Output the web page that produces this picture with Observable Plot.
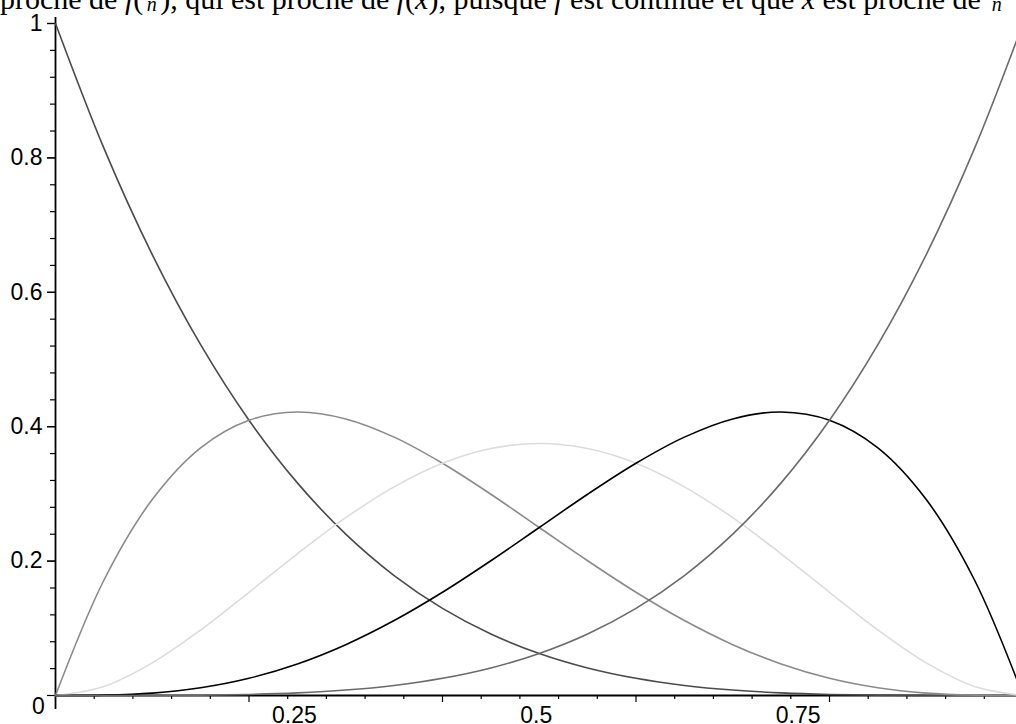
<!DOCTYPE html>
<html>
<head>
<meta charset="utf-8">
<script src="https://cdn.jsdelivr.net/npm/d3@7"></script>
<script src="https://cdn.jsdelivr.net/npm/@observablehq/plot@0.6"></script>
<style>
  html, body { margin: 0; padding: 0; background: #fff; overflow: hidden; }
  #wrap { position: relative; width: 1016px; height: 724px; overflow: hidden; }
  #title {
    position: absolute; left: 0; top: -21px; white-space: nowrap;
    font-family: "Liberation Serif", "DejaVu Serif", serif; font-size: 30px; line-height: 30px; color: #000;
  }
  #title i { font-style: italic; }
  .frac { display: inline-block; font-size: 20px; line-height: 16px; text-align: center; vertical-align: -2px; padding: 0 3px; }
  .frac .num { display: block; border-bottom: 1px solid #000; padding: 0 1px; }
  .frac .den { display: block; font-style: italic; }
  #chart { position: absolute; left: 0; top: 0; }
</style>
</head>
<body>
<div id="wrap">
  <div id="chart"></div>
  <div id="title">proche de <i>f</i>(<span class="frac"><span class="num"><i>k</i></span><span class="den">n</span></span>), qui est proche de <i>f</i>(<i>x</i>), puisque <i>f</i> est continue et que <i>x</i> est proche de <span class="frac"><span class="num"><i>k</i></span><span class="den">n</span></span></div>
</div>
<script>
// sample positions along x
const xs = [0, 0.05, 0.1, 0.15, 0.2, 0.25, 0.3, 0.35, 0.4, 0.45, 0.5, 0.55, 0.6, 0.65, 0.7, 0.75, 0.8, 0.85, 0.9, 0.95, 1];
// curve values
const curveA = [1, 0.8145, 0.6561, 0.5220, 0.4096, 0.3164, 0.2401, 0.1785, 0.1296, 0.0915, 0.0625, 0.0410, 0.0256, 0.0150, 0.0081, 0.0039, 0.0016, 0.0005, 0.0001, 0.0000, 0];
const curveB = [0, 0.1715, 0.2916, 0.3685, 0.4096, 0.4219, 0.4116, 0.3845, 0.3456, 0.2995, 0.25, 0.2005, 0.1536, 0.1115, 0.0756, 0.0469, 0.0256, 0.0115, 0.0036, 0.0005, 0];
const curveC = [0, 0.0135, 0.0486, 0.0975, 0.1536, 0.2109, 0.2646, 0.3105, 0.3456, 0.3675, 0.375, 0.3675, 0.3456, 0.3105, 0.2646, 0.2109, 0.1536, 0.0975, 0.0486, 0.0135, 0];
const curveD = [0, 0.0005, 0.0036, 0.0115, 0.0256, 0.0469, 0.0756, 0.1115, 0.1536, 0.2005, 0.25, 0.2995, 0.3456, 0.3845, 0.4116, 0.4219, 0.4096, 0.3685, 0.2916, 0.1715, 0];
const curveE = [0, 0.0000, 0.0001, 0.0005, 0.0016, 0.0039, 0.0081, 0.0150, 0.0256, 0.0410, 0.0625, 0.0915, 0.1296, 0.1785, 0.2401, 0.3164, 0.4096, 0.5220, 0.6561, 0.8145, 1];
const seriesColors = ["#4a4a4a", "#8a8a8a", "#dcdcdc", "#000000", "#6a6a6a"];
// ticks and labels
const yLabelTicks = [0.2, 0.4, 0.6, 0.8, 1];
const yMajorTicks = [0, 0.2, 0.4, 0.6, 0.8, 1];
const yMinorTicks = [0.04, 0.08, 0.12, 0.16, 0.24, 0.28, 0.32, 0.36, 0.44, 0.48, 0.52, 0.56, 0.64, 0.68, 0.72, 0.76, 0.84, 0.88, 0.92, 0.96];
const xMajorTicks = [0.2, 0.4, 0.6, 0.8];
const xMinorTicks = [0.04, 0.08, 0.12, 0.16, 0.24, 0.28, 0.32, 0.36, 0.44, 0.48, 0.52, 0.56, 0.64, 0.68, 0.72, 0.76, 0.84, 0.88, 0.92, 0.96];
const xLabelTicksLeft = [0.25, 0.5];
const xLabelTicksRight = [0.75];
const originLabel = ["0"];

const curves = [curveA, curveB, curveC, curveD, curveE];
const data = curves.flatMap((vals, k) => xs.map((x, i) => ({x, y: vals[i], s: "c" + k})));

const chart = Plot.plot({
  width: 1016,
  height: 724,
  marginLeft: 55,
  marginTop: 23,
  marginBottom: 29,
  marginRight: 0,
  x: {domain: [0, 1], range: [55, 1022.5], axis: null, label: null},
  y: {domain: [0, 1], range: [695, 23], axis: null, label: null},
  color: {domain: ["c0", "c1", "c2", "c3", "c4"], range: seriesColors},
  style: {fontFamily: "'Liberation Sans', Arial, sans-serif", fontSize: "23px", background: "transparent", color: "#000"},
  marks: [
    Plot.ruleY([0], {x1: 0, x2: 1, stroke: "#000", strokeWidth: 1.8}),
    Plot.ruleX([0], {y1: -0.021, y2: 1.009, stroke: "#000", strokeWidth: 1.8}),
    Plot.axisY(yMajorTicks, {anchor: "left", label: null, tickSize: 8, tickFormat: () => "", strokeWidth: 1.2}),
    Plot.axisY(yMinorTicks, {anchor: "left", label: null, tickSize: 5, tickFormat: () => "", strokeWidth: 1.2}),
    Plot.axisY(yLabelTicks, {anchor: "left", label: null, tickSize: 8, tickPadding: 5, fontSize: 23, strokeWidth: 1.2, tickFormat: d => String(d)}),
    Plot.axisX(xMajorTicks, {anchor: "bottom", label: null, tickSize: 7, tickFormat: () => "", strokeWidth: 1.2}),
    Plot.axisX(xMinorTicks, {anchor: "bottom", label: null, tickSize: 4, tickFormat: () => "", strokeWidth: 1.2}),
    Plot.axisX(xLabelTicksLeft, {anchor: "bottom", label: null, tickSize: 0, tickPadding: 11, dx: -3, fontSize: 23, tickFormat: d => String(d)}),
    Plot.axisX(xLabelTicksRight, {anchor: "bottom", label: null, tickSize: 0, tickPadding: 11, dx: 17, fontSize: 23, tickFormat: d => String(d)}),
    Plot.text(originLabel, {x: 0, y: 0, text: d => d, dx: -17, dy: 11, fontSize: 23, textAnchor: "middle"}),
    Plot.line(data, {x: "x", y: "y", z: "s", stroke: "s", curve: "catmull-rom", strokeWidth: 1.6})
  ]
});
document.getElementById("chart").appendChild(chart);
</script>
</body>
</html>
